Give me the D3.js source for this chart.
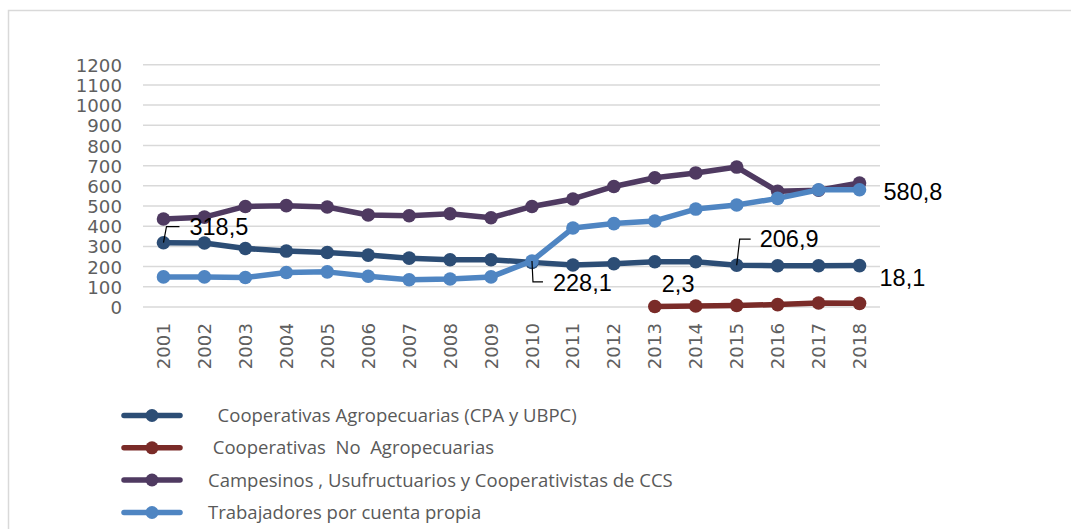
<!DOCTYPE html>
<html>
<head>
<meta charset="utf-8">
<script src="https://cdn.jsdelivr.net/npm/d3@7"></script>
<style>
  html, body { margin: 0; padding: 0; background: #fff; }
  svg { display: block; }
  .tick-label { font-family: "DejaVu Sans", sans-serif; font-size: 18.2px; fill: #5f5f5f; }
  .legend-label { font-family: "Open Sans", sans-serif; font-size: 18.5px; fill: #595959; white-space: pre; }
  .data-label { font-family: "Liberation Sans", Arial, sans-serif; font-size: 23.5px; fill: #000; }
</style>
</head>
<body>
<svg width="1071" height="529"></svg>
<script>
// data
var years = ["2001","2002","2003","2004","2005","2006","2007","2008","2009",
             "2010","2011","2012","2013","2014","2015","2016","2017","2018"];

var cpaUbpc     = [318.5, 317, 290, 277, 270, 257, 242, 234, 234, 221, 208, 214, 224, 224, 206.9, 204, 204, 205];
var noAgro      = [null, null, null, null, null, null, null, null, null, null, null, null, 2.3, 5, 8, 12, 20, 18.1];
var campesinos  = [436, 445, 498, 502, 495, 456, 452, 462, 442, 498, 535, 597, 640, 664, 693, 573, 578, 614];
var cuentaPropia= [149, 149, 146, 171, 174, 152, 135, 139, 149, 228.1, 391, 413, 426, 485, 505, 538, 581, 580.8];

var seriesNames = [
    "  Cooperativas Agropecuarias (CPA y UBPC)",
    " Cooperativas  No  Agropecuarias",
    "Campesinos , Usufructuarios y Cooperativistas de CCS",
    "Trabajadores por cuenta propia"
];
var seriesColors = ["#2c4d75", "#7a2b28", "#4f3a61", "#4f85c2"];
var yTicks = d3.range(0, 1201, 100);

// labels shown on the chart: series index, year index, text
var labels = [
    {s: 0, i: 0,  text: "318,5", dx: 26, dy: -8,  leader: [[3, -16], [16, -16]]},
    {s: 3, i: 9,  text: "228,1", dx: 21, dy: 30,  leader: [[1, 21], [11, 21]]},
    {s: 1, i: 12, text: "2,3",   dx: 7,  dy: -15, leader: null},
    {s: 0, i: 14, text: "206,9", dx: 23, dy: -18, leader: [[3, -26], [14, -26]]},
    {s: 3, i: 17, text: "580,8", dx: 24, dy: 10,  leader: null},
    {s: 1, i: 17, text: "18,1",  dx: 20, dy: -17, leader: null}
];

var series = [cpaUbpc, noAgro, campesinos, cuentaPropia];

var svg = d3.select("svg");

// chart frame
svg.append("rect")
    .attr("x", 8.5).attr("y", 10.5)
    .attr("width", 1070).attr("height", 540)
    .attr("fill", "none")
    .attr("stroke", "#d9d9d9")
    .attr("stroke-width", 1.5);

var x = d3.scaleBand().domain(years).range([143, 880]);
var y = d3.scaleLinear().domain([0, 1200]).range([307, 64.7]);

// gridlines
svg.append("g")
    .selectAll("line")
    .data(yTicks)
    .enter().append("line")
    .attr("x1", 143).attr("x2", 880)
    .attr("y1", function (d) { return y(d); })
    .attr("y2", function (d) { return y(d); })
    .attr("stroke", "#d9d9d9")
    .attr("stroke-width", 1.5);

// y axis labels
var yAxis = d3.axisLeft(y).tickValues(yTicks).tickFormat(d3.format("d")).tickSize(0).tickPadding(0);
var yg = svg.append("g").attr("transform", "translate(122,0)").call(yAxis);
yg.select(".domain").remove();
yg.selectAll("text")
    .attr("class", "tick-label")
    .attr("font-family", null).attr("font-size", null)
    .attr("fill", null)
    .attr("dy", "0.36em");

// x axis labels (rotated)
var xAxis = d3.axisBottom(x).tickSize(0).tickPadding(0);
var xg = svg.append("g").attr("transform", "translate(0,323)").call(xAxis);
xg.select(".domain").remove();
xg.selectAll("text")
    .attr("class", "tick-label")
    .attr("font-family", null).attr("font-size", null)
    .attr("fill", null)
    .attr("text-anchor", "end")
    .attr("transform", "rotate(-90)")
    .attr("x", 0)
    .attr("y", 0)
    .attr("dy", "0.36em");

function cx(i) { return x(years[i]) + x.bandwidth() / 2; }

var line = d3.line()
    .defined(function (d) { return d != null; })
    .x(function (d, i) { return cx(i); })
    .y(function (d) { return y(d); });

var lines = svg.append("g");
series.forEach(function (vals, s) {
    var g = lines.append("g");
    g.append("path")
        .datum(vals)
        .attr("d", line)
        .attr("fill", "none")
        .attr("stroke", seriesColors[s])
        .attr("stroke-width", 5.5)
        .attr("stroke-linejoin", "round");
    g.selectAll("circle")
        .data(vals.map(function (v, i) { return {v: v, i: i}; }).filter(function (d) { return d.v != null; }))
        .enter().append("circle")
        .attr("cx", function (d) { return cx(d.i); })
        .attr("cy", function (d) { return y(d.v); })
        .attr("r", 6.8)
        .attr("fill", seriesColors[s]);
});

// data labels
var lab = svg.append("g");
labels.forEach(function (l) {
    var px = cx(l.i), py = y(series[l.s][l.i]);
    if (l.leader) {
        var pts = [[px, py]].concat(l.leader.map(function (p) { return [px + p[0], py + p[1]]; }));
        lab.append("path")
            .attr("d", d3.line()(pts))
            .attr("fill", "none")
            .attr("stroke", "#000")
            .attr("stroke-width", 1.2);
    }
    lab.append("text")
        .attr("class", "data-label")
        .attr("x", px + l.dx)
        .attr("y", py + l.dy)
        .text(l.text);
});

// legend
var legendY = [415.5, 447.8, 480, 512.5];
var leg = svg.append("g");
seriesNames.forEach(function (name, s) {
    var g = leg.append("g").attr("transform", "translate(0," + legendY[s] + ")");
    g.append("line")
        .attr("x1", 124).attr("x2", 180)
        .attr("stroke", seriesColors[s])
        .attr("stroke-width", 5.5)
        .attr("stroke-linecap", "round");
    g.append("circle")
        .attr("cx", 152).attr("r", 6.5)
        .attr("fill", seriesColors[s]);
    g.append("text")
        .attr("class", "legend-label")
        .attr("x", 208)
        .attr("dy", "0.36em")
        .attr("xml:space", "preserve")
        .text(name);
});
</script>
</body>
</html>
